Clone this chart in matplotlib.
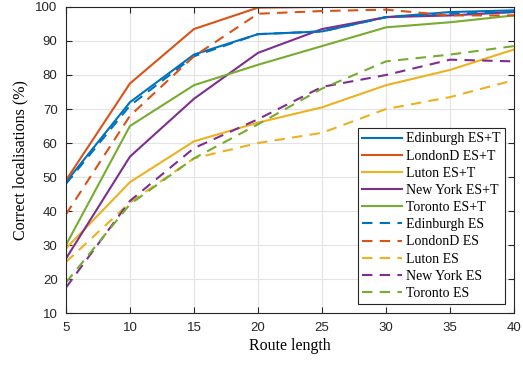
import matplotlib
matplotlib.use("Agg")
import matplotlib.pyplot as plt

plt.rcParams["font.family"] = ["Liberation Serif", "DejaVu Serif"]

route_length = [5, 10, 15, 20, 25, 30, 35, 40]

edinburgh_est = [48.5, 72.0, 86.0, 92.0, 92.8, 97.0, 98.5, 99.0]
londond_est = [49.0, 77.5, 93.5, 99.8, 100.0, 100.0, 100.0, 100.0]
luton_est = [29.0, 48.5, 60.5, 66.0, 70.5, 77.0, 81.5, 87.5]
newyork_est = [26.0, 56.0, 73.0, 86.5, 93.5, 97.0, 97.5, 98.5]
toronto_est = [30.0, 65.0, 77.0, 83.0, 88.5, 94.0, 95.5, 97.5]

edinburgh_es = [48.0, 71.0, 85.5, 92.0, 92.8, 97.0, 98.0, 98.5]
londond_es = [39.0, 68.0, 85.5, 98.0, 98.8, 99.2, 97.5, 97.5]
luton_es = [25.0, 42.5, 55.5, 60.0, 63.0, 70.0, 73.5, 78.5]
newyork_es = [17.5, 43.0, 58.5, 67.0, 76.5, 80.0, 84.5, 84.0]
toronto_es = [19.0, 42.0, 55.5, 65.5, 76.0, 84.0, 86.0, 88.5]

cities = ["Edinburgh", "LondonD", "Luton", "New York", "Toronto"]
colors = ["#0072BD", "#D95319", "#EDB120", "#7E2F8E", "#77AC30"]
est_series = [edinburgh_est, londond_est, luton_est, newyork_est, toronto_est]
es_series = [edinburgh_es, londond_es, luton_es, newyork_es, toronto_es]

fig = plt.figure(figsize=(5.23, 3.65), dpi=100)
ax = fig.add_axes([0.126, 0.142, 0.857, 0.839])

for city, c, vals in zip(cities, colors, est_series):
    ax.plot(route_length, vals, color=c, linewidth=1.5, label=f"{city} ES+T")
for city, c, vals in zip(cities, colors, es_series):
    ax.plot(route_length, vals, color=c, linewidth=1.5, linestyle=(0, (5, 3.5)),
            label=f"{city} ES")

ax.set_xlim(5, 40)
ax.set_ylim(10, 100)
ax.set_xticks(range(5, 41, 5))
ax.set_yticks(range(10, 101, 10))
ax.grid(True, color="#e3e3e3", linewidth=0.8)
ax.set_axisbelow(True)
ax.tick_params(direction="in", labelsize=9.5, length=4, pad=6, top=True,
               right=True, color="#262626", labelcolor="#262626")
for lab in ax.get_xticklabels() + ax.get_yticklabels():
    lab.set_family(["Liberation Sans", "DejaVu Sans"])
for s in ax.spines.values():
    s.set_color("#262626")
    s.set_linewidth(0.8)
ax.set_xlabel("Route length", fontsize=11.5, labelpad=3)
ax.set_ylabel("Correct localisations (%)", fontsize=11.5, labelpad=5)

leg = ax.legend(loc="lower right", fontsize=10, fancybox=False,
                edgecolor="#262626", framealpha=1, borderpad=0.3,
                labelspacing=0.3, handlelength=2.9, handletextpad=0.3,
                borderaxespad=0.65)
leg.get_frame().set_linewidth(0.8)

fig.savefig("out.png", dpi=100)
